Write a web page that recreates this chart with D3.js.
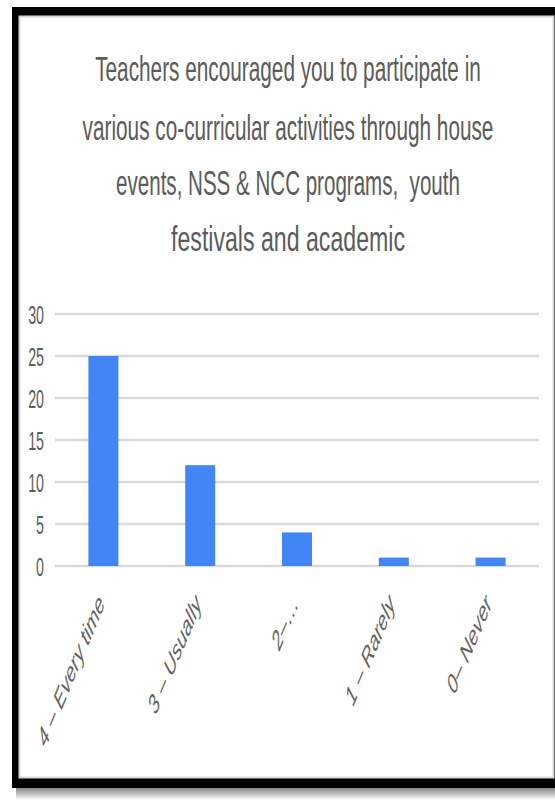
<!DOCTYPE html>
<html>
<head>
<meta charset="utf-8">
<script src="https://cdn.jsdelivr.net/npm/d3@7"></script>
<style>
  html, body { margin: 0; padding: 0; background: #fff; }
  svg { display: block; }
  text { font-family: "Liberation Sans", Arial, sans-serif; }
</style>
</head>
<body>
<svg id="chart" width="555" height="803"></svg>
<script>
// Survey responses
const categories = ["4 – Every time", "3 – Usually", "2–…", "1 – Rarely", "0– Never"];
const counts = [25, 12, 4, 1, 1];
const yTicks = [0, 5, 10, 15, 20, 25, 30];
const titleLines = [
  "Teachers encouraged you to participate in",
  "various co-curricular activities through house",
  "events, NSS & NCC programs,  youth",
  "festivals and academic"
];

const svg = d3.select("#chart");
const textColor = "#5b5b5b";
const squeeze = 0.57; // narrow, tall lettering

// Drop shadow under the frame
const defs = svg.append("defs");
const shadow = defs.append("linearGradient")
  .attr("id", "shadow").attr("x1", 0).attr("y1", 0).attr("x2", 0).attr("y2", 1);
shadow.append("stop").attr("offset", "0%").attr("stop-color", "#7a7a7a");
shadow.append("stop").attr("offset", "100%").attr("stop-color", "#ffffff");

svg.append("rect").attr("x", 16).attr("y", 787).attr("width", 539).attr("height", 13)
  .attr("fill", "url(#shadow)");

// Black frame and white panel
svg.append("rect").attr("x", 12).attr("y", 7).attr("width", 560).attr("height", 781)
  .attr("fill", "#000");
svg.append("rect").attr("x", 19.5).attr("y", 16.5).attr("width", 534).attr("height", 761)
  .attr("fill", "#fff").attr("stroke", "#d6d6d6").attr("stroke-width", 2);

// Title: each line squeezed horizontally to its set width
const titleBase = [81, 140, 195, 251];
const titleWidth = [386, 411, 344, 234];
const titleG = svg.append("g").selectAll("g")
  .data(titleLines)
  .join("g");
titleG.append("text")
  .attr("text-anchor", "middle")
  .attr("font-size", 35)
  .attr("fill", textColor)
  .attr("xml:space", "preserve")
  .style("white-space", "pre")
  .text(d => d);
titleG.attr("transform", function (d, i) {
  const w = this.querySelector("text").getComputedTextLength();
  return `translate(288,${titleBase[i]}) scale(${titleWidth[i] / w},1)`;
});

// Scales
const x = d3.scaleBand().domain(categories).range([55, 539]).paddingInner(0.69).paddingOuter(0.345);
const y = d3.scaleLinear().domain([0, 30]).range([566, 314]);

// Gridlines
svg.append("g").selectAll("line")
  .data(yTicks)
  .join("line")
  .attr("x1", 55).attr("x2", 539)
  .attr("y1", d => y(d)).attr("y2", d => y(d))
  .attr("stroke", "#d9d9d9")
  .attr("stroke-width", 2.5);

// Y axis labels
const yAxis = svg.append("g").attr("transform", "translate(44,0)")
  .call(d3.axisLeft(y).tickValues(yTicks).tickSize(0).tickPadding(0));
yAxis.select(".domain").remove();
yAxis.selectAll(".tick text")
  .attr("font-size", 25)
  .attr("fill", textColor)
  .attr("font-family", "Liberation Sans, Arial, sans-serif")
  .attr("x", 0)
  .attr("dy", "0.36em")
  .attr("transform", `scale(${squeeze},1)`);

// Bars
svg.append("g").selectAll("rect")
  .data(counts)
  .join("rect")
  .attr("x", (d, i) => x(categories[i]))
  .attr("width", x.bandwidth())
  .attr("y", d => y(d))
  .attr("height", d => y(0) - y(d))
  .attr("fill", "#4285f4");

// Category labels, slanted
svg.append("g").selectAll("text")
  .data(categories)
  .join("text")
  .attr("transform", d => `translate(${x(d) + x.bandwidth() / 2 + 2},604) scale(${squeeze},1) rotate(-54)`)
  .attr("text-anchor", "end")
  .attr("font-size", 28)
  .attr("font-style", "italic")
  .attr("fill", "#636363")
  .text(d => d);
</script>
</body>
</html>
